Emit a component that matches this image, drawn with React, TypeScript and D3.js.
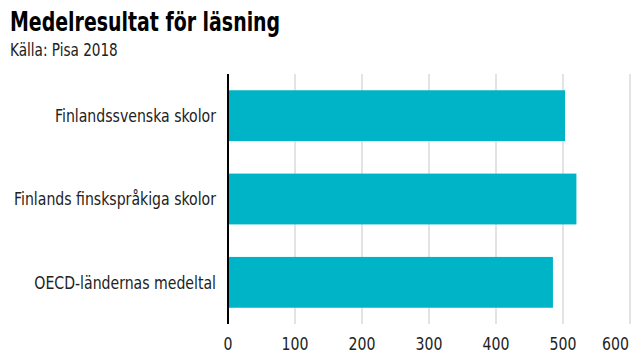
import React from "react";
import * as d3 from "d3";

const categories = ["Finlandssvenska skolor", "Finlands finskspråkiga skolor", "OECD-ländernas medeltal"];
const values = [503, 520, 485];
const tickValues = [0, 100, 200, 300, 400, 500, 600];
const title = "Medelresultat för läsning";
const subtitle = "Källa: Pisa 2018";

const FONT = "'DejaVu Sans Condensed', 'DejaVu Sans', sans-serif";

function CText(props: any) {
  const { x, y, sx = 0.87, children, ...rest } = props;
  return (
    <text transform={`translate(${x},${y}) scale(${sx},1)`} fontFamily={FONT} {...rest}>
      {children}
    </text>
  );
}

export default function App() {
  const W = 640, H = 360;
  const x = d3.scaleLinear().domain([0, 600]).range([228, 630]);
  const y = d3.scaleBand().domain(categories).range([74, 324]).paddingInner(0.39).paddingOuter(0.195);
  const last = tickValues[tickValues.length - 1];
  return (
    <svg width={W} height={H} style={{ position: "absolute", left: 0, top: 0, background: "#fff" }}>
      <CText x={10} y={31} sx={0.81} fontWeight="bold" fontSize={26} fill="#000">{title}</CText>
      <CText x={10} y={56} sx={0.89} fontSize={17} fill="#222">{subtitle}</CText>
      {tickValues.map((t) => (
        <g key={t}>
          {t > 0 && <line x1={x(t)} x2={x(t)} y1={74} y2={324} stroke="#e3e3e3" strokeWidth={2} />}
          <CText
            x={t === last ? x(t) - 1 : x(t)}
            y={350}
            textAnchor={t === last ? "end" : "middle"}
            fontSize={18}
            fill="#222"
          >
            {t}
          </CText>
        </g>
      ))}
      {categories.map((c, i) => (
        <g key={c}>
          <rect x={x(0)} y={y(c)!} width={x(values[i]) - x(0)} height={y.bandwidth()} fill="#00b4c8" />
          <CText x={216} y={y(c)! + y.bandwidth() / 2} dy="0.35em" textAnchor="end" fontSize={18} fill="#222">{c}</CText>
        </g>
      ))}
      <line x1={x(0)} x2={x(0)} y1={74} y2={324} stroke="#000" strokeWidth={2} />
    </svg>
  );
}
